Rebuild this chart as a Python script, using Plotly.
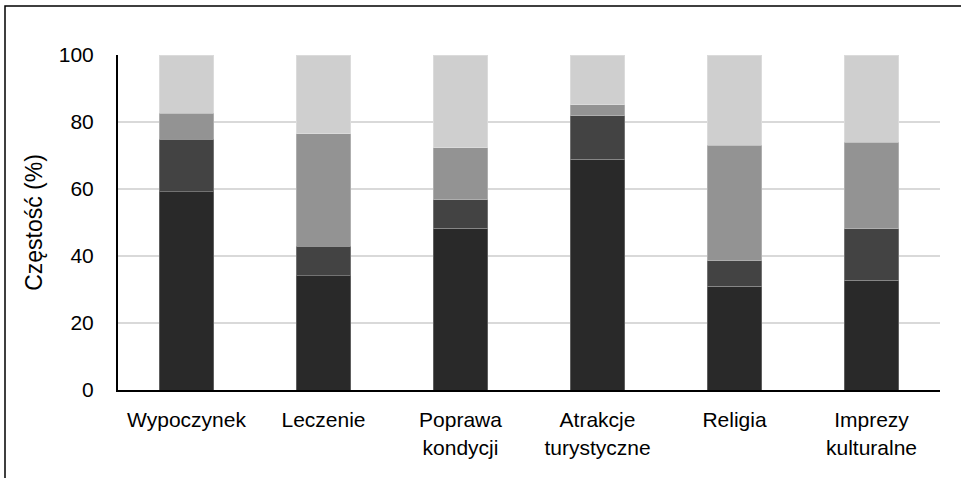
import plotly.graph_objects as go

categories = ["Wypoczynek", "Leczenie", "Poprawa<br>kondycji", "Atrakcje<br>turystyczne", "Religia", "Imprezy<br>kulturalne"]
seg1 = [59.2, 34.1, 48.3, 68.9, 30.9, 32.7]
seg2 = [15.6, 8.8, 8.5, 12.9, 7.7, 15.5]
seg3 = [7.8, 33.6, 15.5, 3.3, 34.5, 25.8]
seg4 = [17.4, 23.5, 27.7, 14.9, 26.9, 26.0]
series = [seg1, seg2, seg3, seg4]
colors = ["#292929", "#434343", "#939393", "#cfcfcf"]
y_ticks = [0, 20, 40, 60, 80, 100]

FONT = "Liberation Sans Narrow, Arial Narrow, Liberation Sans, Arial, sans-serif"
FS = 21

fig = go.Figure()
for vals, col in zip(series, colors):
    fig.add_trace(go.Bar(
        x=categories, y=vals,
        marker=dict(color=col, line=dict(color="rgba(255,255,255,0.25)", width=1)),
        showlegend=False,
    ))

L, R, T, B = 118, 21, 55, 88
W, H = 961, 478
pw, ph = W - L - R, H - T - B

def px_x(p):
    return (p - L) / pw

def px_y(p):
    return (H - B - p) / ph

fig.add_shape(type="rect", xref="paper", yref="paper",
              x0=px_x(5), x1=px_x(1000), y0=px_y(560), y1=px_y(6),
              line=dict(color="black", width=1.5), layer="above")

fig.update_layout(
    barmode="stack",
    bargap=0.6,
    width=W, height=H,
    margin=dict(l=L, r=R, t=T, b=B),
    paper_bgcolor="white",
    plot_bgcolor="white",
    font=dict(family=FONT, size=FS, color="black"),
    xaxis=dict(
        showline=True, linecolor="black", linewidth=2,
        tickfont=dict(size=FS, family=FONT),
        ticks="", showgrid=False, ticklabelstandoff=10,
    ),
    yaxis=dict(
        range=[0, 100], tickvals=y_ticks,
        showline=True, linecolor="black", linewidth=2,
        showgrid=True, gridcolor="#d9d9d9", gridwidth=1.5,
        tickfont=dict(size=FS, family=FONT),
        ticks="", ticklabelstandoff=18,
        zeroline=False,
        title=dict(text="Częstość (%)", font=dict(size=23, family=FONT), standoff=10),
    ),
)

fig.write_html("out.html", config={"displayModeBar": False},
               post_script="document.body.style.margin='0';")
